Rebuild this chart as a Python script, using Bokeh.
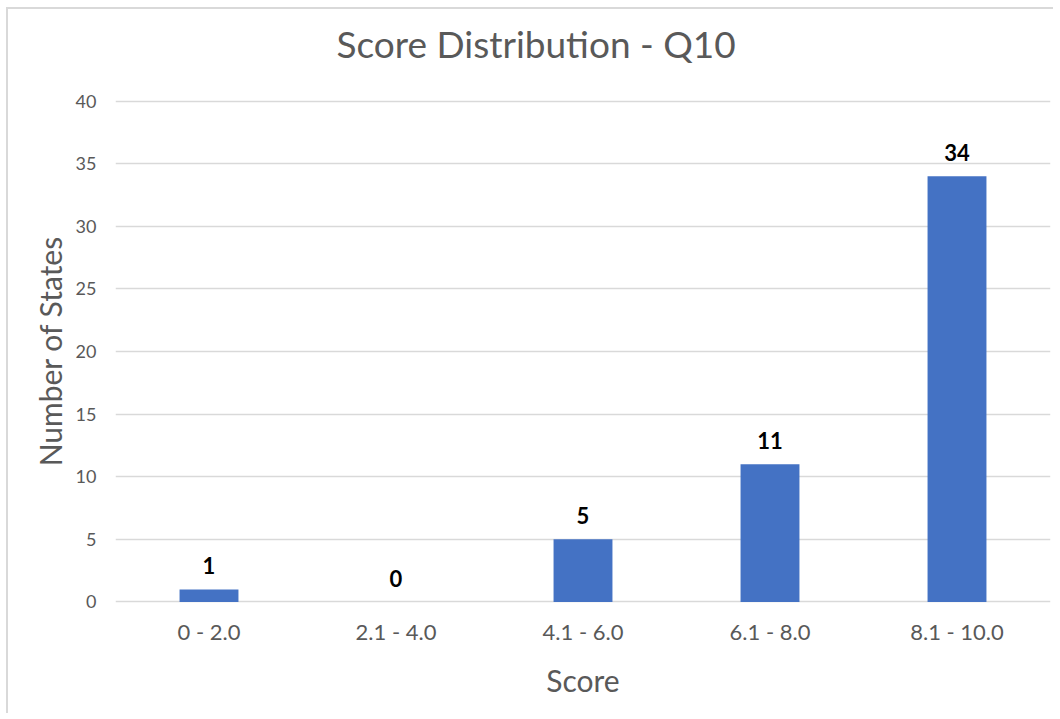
from bokeh.plotting import figure
from bokeh.models import ColumnDataSource, LabelSet, Title, Range1d, FixedTicker
from bokeh.core.properties import value
from bokeh.embed import file_html
from bokeh.resources import INLINE

categories = ["0 - 2.0", "2.1 - 4.0", "4.1 - 6.0", "6.1 - 8.0", "8.1 - 10.0"]
counts = [1, 0, 5, 11, 34]
y_ticks = [0, 5, 10, 15, 20, 25, 30, 35, 40]
title_text = "Score Distribution - Q10"

src = ColumnDataSource(dict(cat=categories, val=counts, lab=[str(v) for v in counts]))

FONT = "Lato"
GRAY = "#595959"

p = figure(x_range=categories, width=1047, height=706, output_backend="svg",
           toolbar_location=None, min_border_left=107, min_border_right=5,
           min_border_top=89, min_border_bottom=112)
p.title = None
p.margin = (7, 0, 0, 6)
p.styles = {"border-top": "2px solid #d9d9d9", "border-left": "2px solid #d9d9d9"}
p.y_range = Range1d(-0.12, 40.2)
p.x_range.range_padding = 0

p.vbar(x="cat", top="val", width=0.315, source=src, color="#4472C4", line_color=None)

labels = LabelSet(x="cat", y="val", text="lab", source=src, text_align="center",
                  text_baseline="bottom", y_offset=15, text_font=value(FONT),
                  text_font_style="bold", text_font_size="22px", text_color="#000000")
p.add_layout(labels)

# blank spacer between frame and title, then the title itself
spacer = Title(text=" ", text_font=FONT, text_font_size="14px", standoff=6)
p.add_layout(spacer, "above")
t = Title(text=title_text, align="left", text_font=FONT,
          text_font_size="37px", text_font_style="normal", text_color=GRAY,
          offset=221, standoff=15)
p.add_layout(t, "above")

p.yaxis.ticker = FixedTicker(ticks=y_ticks)
for ax in (p.xaxis, p.yaxis):
    ax.axis_line_color = None
    ax.major_tick_line_color = None
    ax.minor_tick_line_color = None
    ax.major_label_text_font = FONT
    ax.major_label_text_color = GRAY
    ax.axis_label_text_font = FONT
    ax.axis_label_text_font_size = "30px"
    ax.axis_label_text_font_style = "normal"
    ax.axis_label_text_color = GRAY

p.yaxis.major_label_text_font_size = "18px"
p.xaxis.major_label_text_font_size = "22px"
p.yaxis.axis_label = "Number of States"
p.xaxis.axis_label = "Score"
p.yaxis.major_label_standoff = 13
p.xaxis.major_label_standoff = 8
p.yaxis.axis_label_standoff = 5
p.xaxis.axis_label_standoff = 14

p.xgrid.grid_line_color = None
p.ygrid.grid_line_color = "#d9d9d9"
p.ygrid.grid_line_width = 1.5
p.ygrid.ticker = FixedTicker(ticks=y_ticks)
p.outline_line_color = None

open("out.html", "w").write(file_html(p, INLINE))
